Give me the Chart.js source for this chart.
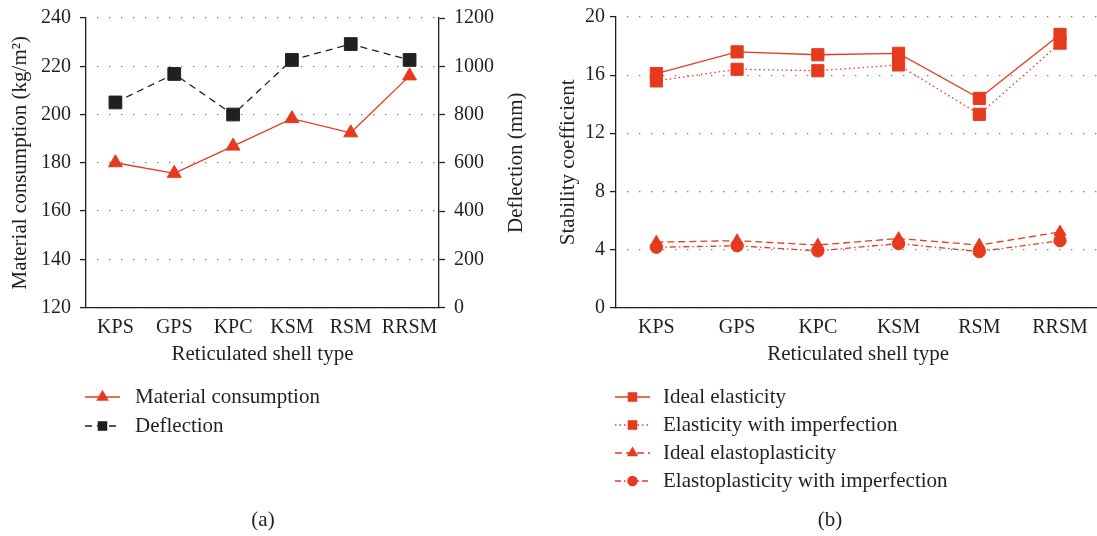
<!DOCTYPE html>
<html>
<head>
<meta charset="utf-8">
<script src="https://cdn.jsdelivr.net/npm/chart.js@4.4.0/dist/chart.umd.min.js"></script>
<style>
  html, body { margin: 0; padding: 0; background: #fff; width: 1097px; height: 536px; overflow: hidden; }
  #wrapA { position: absolute; left: 0; top: 0; width: 540px; height: 536px; }
  #wrapB { position: absolute; left: 540px; top: 0; width: 570px; height: 536px; }
</style>
</head>
<body>
<div id="wrapA"><canvas id="chartA" width="540" height="536"></canvas></div>
<div id="wrapB"><canvas id="chartB" width="570" height="536"></canvas></div>
<script>
// ========== DATA ==========
const shellTypes = ['KPS', 'GPS', 'KPC', 'KSM', 'RSM', 'RRSM'];

// (a) material consumption (kg/m2) and deflection (mm)
const materialConsumption = [180, 175.6, 186.9, 198.3, 192.4, 216];
const deflection = [850, 968, 800, 1026, 1092, 1026];
const materialTicks = [120, 140, 160, 180, 200, 220, 240];
const deflectionTicks = [0, 200, 400, 600, 800, 1000, 1200];

// (b) stability coefficient
const idealElasticity = [16.1, 17.6, 17.4, 17.5, 14.4, 18.8];
const elasticityImperfection = [15.6, 16.4, 16.3, 16.7, 13.3, 18.2];
const idealElastoplasticity = [4.5, 4.6, 4.3, 4.75, 4.3, 5.2];
const elastoplasticityImperfection = [4.15, 4.25, 3.9, 4.4, 3.85, 4.6];
const stabilityTicks = [0, 4, 8, 12, 16, 20];

const red = '#e63a1f';
const ink = '#231f20';
const serif = "'Liberation Serif', 'DejaVu Serif', serif";

Chart.defaults.font.family = serif;
Chart.defaults.color = ink;

// fix the axis box sizes so the plot area lands where it should
function fixWidth(w) {
    return function(s) { s.width = w; s.paddingTop = 0; s.paddingBottom = 0; s.paddingLeft = 0; s.paddingRight = 0; };
}
function fixHeight(h) {
    return function(s) { s.height = h; s.paddingTop = 0; s.paddingBottom = 0; s.paddingLeft = 0; s.paddingRight = 0; };
}
const plainNumber = v => String(v);

// legend, caption and extra title drawn by hand
const extras = {
    id: 'extras',
    afterDraw(chart, args, opts) {
        const ctx = chart.ctx;
        ctx.save();
        ctx.font = '21px ' + serif;
        ctx.textBaseline = 'middle';
        chart.data.datasets.forEach((ds, i) => {
            const y = opts.rowY[i];
            ctx.strokeStyle = ds.borderColor;
            ctx.lineWidth = ds.borderWidth;
            ctx.setLineDash(ds.borderDash || []);
            ctx.beginPath();
            ctx.moveTo(opts.x0, y);
            ctx.lineTo(opts.x1, y);
            ctx.stroke();
            ctx.setLineDash([]);
            ctx.fillStyle = ds.borderColor;
            Chart.helpers.drawPoint(ctx, {pointStyle: ds.pointStyle, radius: opts.markerR[i], rotation: 0, borderWidth: 1}, (opts.x0 + opts.x1) / 2, y);
            ctx.fillStyle = ink;
            ctx.textAlign = 'left';
            ctx.fillText(ds.label, opts.textX, y);
        });
        ctx.textAlign = 'center';
        ctx.fillText(opts.caption, opts.captionX, opts.captionY);
        if (opts.sideTitle) {
            ctx.translate(opts.sideTitle.x, (chart.chartArea.top + chart.chartArea.bottom) / 2);
            ctx.rotate(-Math.PI / 2);
            ctx.fillText(opts.sideTitle.text, 0, 0);
        }
        ctx.restore();
    }
};

const gridDots = { color: '#6b6b6b', lineWidth: 1.2, tickColor: ink, tickLength: 6, tickWidth: 1.3 };

// ========== (a) ==========
new Chart(document.getElementById('chartA'), {
    type: 'line',
    data: {
        labels: shellTypes,
        datasets: [{
            label: 'Material consumption',
            data: materialConsumption,
            yAxisID: 'y',
            borderColor: red, backgroundColor: red,
            borderWidth: 1.3,
            pointStyle: 'triangle', pointRadius: 8,
            pointBorderColor: red, pointBackgroundColor: red, pointBorderWidth: 1
        }, {
            label: 'Deflection',
            data: deflection,
            yAxisID: 'y1',
            borderColor: ink, backgroundColor: ink,
            borderWidth: 1.3, borderDash: [7, 5],
            pointStyle: 'rect', pointRadius: 9,
            pointBorderColor: ink, pointBackgroundColor: ink, pointBorderWidth: 1
        }]
    },
    options: {
        responsive: false,
        animation: false,
        layout: { padding: { left: 0, right: 0, top: 18, bottom: 168.5 } },
        plugins: {
            legend: { display: false },
            tooltip: { enabled: false },
            extras: {
                rowY: [397, 426], markerR: [6, 5.8],
                x0: 85, x1: 120, textX: 135,
                caption: '(a)', captionX: 263, captionY: 520,
                sideTitle: { text: 'Deflection (mm)', x: 516 }
            }
        },
        scales: {
            x: {
                offset: true,
                grid: { display: false },
                border: { color: ink, width: 1.3 },
                ticks: { padding: 0, font: { size: 20 }, maxRotation: 0 },
                title: { display: true, text: 'Reticulated shell type', font: { size: 21 }, padding: { top: 0, bottom: 0 } },
                afterFit: fixHeight(60)
            },
            y: {
                position: 'left',
                min: materialTicks[0], max: materialTicks[materialTicks.length - 1],
                afterBuildTicks: s => { s.ticks = materialTicks.map(v => ({ value: v })); },
                grid: gridDots,
                border: { color: ink, width: 1.3, dash: [1.2, 10.8], dashOffset: -10.8 },
                ticks: { padding: 9, font: { size: 20 }, callback: plainNumber },
                title: { display: true, text: 'Material consumption (kg/m²)', font: { size: 21 }, padding: { top: 8, bottom: 0 } },
                afterFit: fixWidth(86)
            },
            y1: {
                position: 'right',
                min: deflectionTicks[0], max: deflectionTicks[deflectionTicks.length - 1],
                afterBuildTicks: s => { s.ticks = deflectionTicks.map(v => ({ value: v })); },
                grid: { drawOnChartArea: false, tickColor: ink, tickLength: 6, tickWidth: 1.3 },
                border: { color: ink, width: 1.3 },
                ticks: { padding: 9, font: { size: 20 }, callback: plainNumber },
                afterFit: fixWidth(101)
            }
        }
    },
    plugins: [extras]
});

// ========== (b) ==========
new Chart(document.getElementById('chartB'), {
    type: 'line',
    data: {
        labels: shellTypes,
        datasets: [{
            label: 'Ideal elasticity',
            data: idealElasticity,
            borderColor: red, backgroundColor: red, borderWidth: 1.3,
            pointStyle: 'rect', pointRadius: 8.6,
            pointBorderColor: red, pointBackgroundColor: red, pointBorderWidth: 1
        }, {
            label: 'Elasticity with imperfection',
            data: elasticityImperfection,
            borderColor: red, backgroundColor: red, borderWidth: 1.3, borderDash: [1.5, 3],
            pointStyle: 'rect', pointRadius: 8.6,
            pointBorderColor: red, pointBackgroundColor: red, pointBorderWidth: 1
        }, {
            label: 'Ideal elastoplasticity',
            data: idealElastoplasticity,
            borderColor: red, backgroundColor: red, borderWidth: 1.3, borderDash: [7, 4],
            pointStyle: 'triangle', pointRadius: 6.8,
            pointBorderColor: red, pointBackgroundColor: red, pointBorderWidth: 1
        }, {
            label: 'Elastoplasticity with imperfection',
            data: elastoplasticityImperfection,
            borderColor: red, backgroundColor: red, borderWidth: 1.3, borderDash: [6, 3, 1.5, 3],
            pointStyle: 'circle', pointRadius: 6.2,
            pointBorderColor: red, pointBackgroundColor: red, pointBorderWidth: 1
        }]
    },
    options: {
        responsive: false,
        animation: false,
        layout: { padding: { left: 0, right: 5, top: 17, bottom: 168.5 } },
        plugins: {
            legend: { display: false },
            tooltip: { enabled: false },
            extras: {
                rowY: [397, 425, 453, 481], markerR: [5.8, 5.8, 5.2, 4.6],
                x0: 75, x1: 110, textX: 123,
                caption: '(b)', captionX: 290, captionY: 520
            }
        },
        scales: {
            x: {
                offset: true,
                grid: { display: false },
                border: { color: ink, width: 1.3 },
                ticks: { padding: 0, font: { size: 20 }, maxRotation: 0 },
                title: { display: true, text: 'Reticulated shell type', font: { size: 21 }, padding: { top: 0, bottom: 0 } },
                afterFit: fixHeight(60)
            },
            y: {
                min: stabilityTicks[0], max: stabilityTicks[stabilityTicks.length - 1],
                afterBuildTicks: s => { s.ticks = stabilityTicks.map(v => ({ value: v })); },
                grid: gridDots,
                border: { color: ink, width: 1.3, dash: [1.2, 10.8], dashOffset: -10.8 },
                ticks: { padding: 5, font: { size: 20 }, callback: plainNumber },
                title: { display: true, text: 'Stability coefficient', font: { size: 21 }, padding: { top: 16, bottom: 0 } },
                afterFit: fixWidth(76)
            }
        }
    },
    plugins: [extras]
});
</script>
</body>
</html>
